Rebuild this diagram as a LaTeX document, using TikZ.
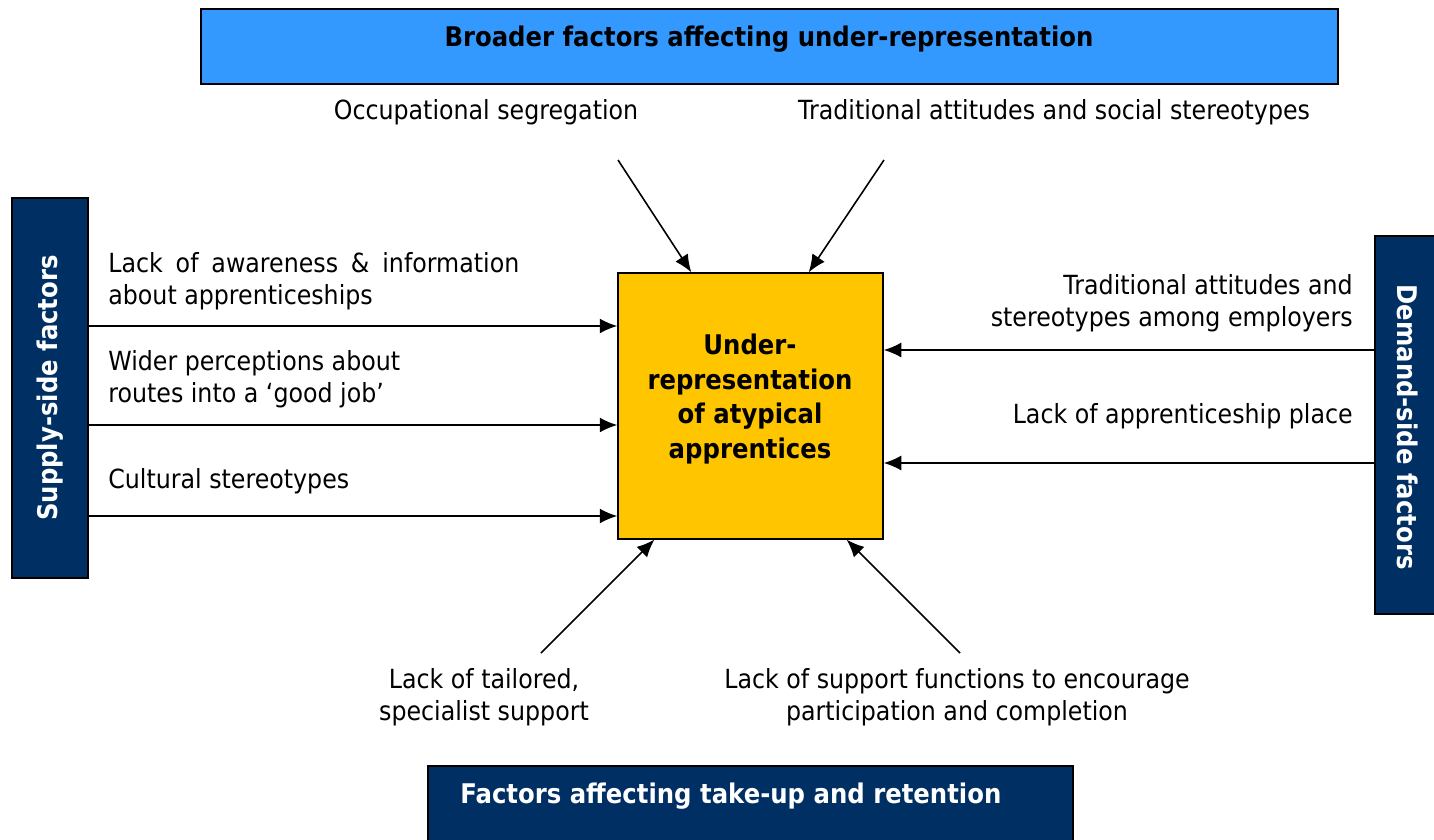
\documentclass[tikz,border=0pt]{standalone}
\usepackage{fontspec}
\setmainfont{DejaVu Sans}[FakeStretch=0.9]
\usetikzlibrary{arrows.meta}

\definecolor{skyblue}{HTML}{3399FF}
\definecolor{navy}{HTML}{003063}
\definecolor{gold}{HTML}{FFC600}

\begin{document}
\begin{tikzpicture}[x=0.02cm, y=-0.02cm,
		font=\fontsize{15}{18.2}\selectfont,
		box/.style={draw=black, line width=0.8pt, inner sep=0pt},
		heading/.style={inner sep=0pt, font=\fontsize{15.4}{18.2}\selectfont\bfseries},
		lbl/.style={inner sep=0pt},
		arr/.style={-{Latex[length=10pt,width=8.5pt]}, line width=0.9pt}]
		
		\clip (0,0) rectangle (1434,839);
		
		% boxes
		\node [box, fill=skyblue, minimum width=22.74cm, minimum height=1.5cm] (broad) at (769.5,46.5) {};
		\node [box, fill=navy, minimum width=1.52cm, minimum height=7.6cm] (supply) at (50,388) {};
		\node [box, fill=navy, minimum width=1.4cm, minimum height=7.56cm] (demand) at (1410,425) {};
		\node [box, fill=navy, minimum width=12.9cm, minimum height=1.8cm] (takeup) at (750.5,811) {};
		\node [box, fill=gold, minimum width=5.3cm, minimum height=5.32cm] (core) at (750.5,406) {};
		
		\node [heading] (broadtxt) at (769,39) {Broader factors affecting under-representation};
		\node [heading, text=white, rotate=90] (supplytxt) at (50,388) {Supply-side factors};
		\node [heading, text=white, rotate=-90] (demandtxt) at (1408,427) {Demand-side factors};
		\node [heading, text=white, anchor=west] (takeuptxt) at (460,796) {Factors affecting take-up and retention};
		\node [heading, align=center, font=\fontsize{15.4}{19.8}\selectfont\bfseries] (coretxt) at (750,399) {Under-\\representation\\of atypical\\apprentices};
		
		% labels
		\node [lbl, align=center] (occseg) at (486,112) {Occupational segregation};
		\node [lbl, align=center] (tradatt) at (1054,112) {Traditional attitudes and social stereotypes};
		\node [lbl, anchor=west, text width=8.22cm, align=justify] (aware) at (108,281) {Lack of awareness \& information\linebreak about apprenticeships};
		\node [lbl, anchor=west, align=left] (wider) at (108,379) {Wider perceptions about\\routes into a `good job'};
		\node [lbl, anchor=west] (cultural) at (108,481) {Cultural stereotypes};
		\node [lbl, anchor=east, align=right] (empatt) at (1353,303) {Traditional attitudes and\\stereotypes among employers};
		\node [lbl, anchor=east] (place) at (1353,416) {Lack of apprenticeship place};
		\node [lbl, align=center] (tailored) at (484,697) {Lack of tailored,\\specialist support};
		\node [lbl, align=center] (supfun) at (957,697) {Lack of support functions to encourage\\participation and completion};
		
		% free ends of the arrows
		\coordinate (s1) at (supply.east |- 0,326);
		\coordinate (s2) at (supply.east |- 0,425);
		\coordinate (s3) at (supply.east |- 0,516);
		\coordinate (d1) at (demand.west |- 0,350);
		\coordinate (d2) at (demand.west |- 0,463);
		\coordinate (t1) at (618,160);
		\coordinate (t2) at (884,160);
		\coordinate (b1) at (541,653);
		\coordinate (b2) at (960,653);
		
		\draw [arr] (s1) -- (s1 -| core.west);
		\draw [arr] (s2) -- (s2 -| core.west);
		\draw [arr] (s3) -- (s3 -| core.west);
		\draw [arr] (d1) -- (d1 -| core.east);
		\draw [arr] (d2) -- (d2 -| core.east);
		\draw [arr] (t1) -- ([xshift=1.48cm]core.north west);
		\draw [arr] (t2) -- ([xshift=-1.5cm]core.north east);
		\draw [arr] (b1) -- ([xshift=0.74cm]core.south west);
		\draw [arr] (b2) -- ([xshift=-0.74cm]core.south east);
	\end{tikzpicture}
\end{document}
